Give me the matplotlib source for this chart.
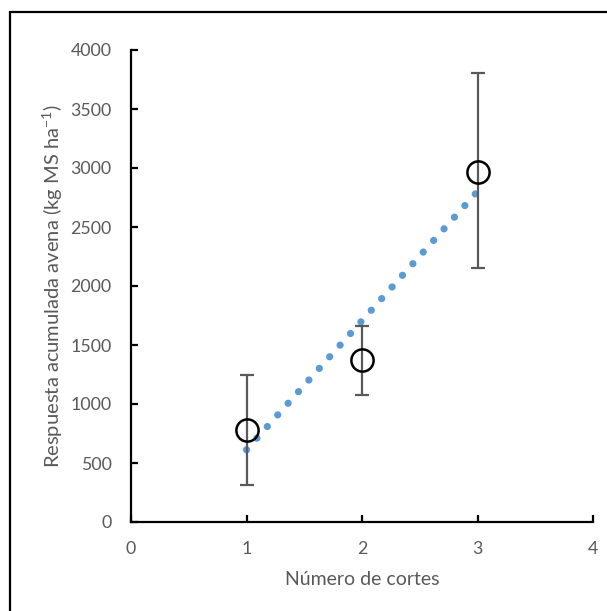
import numpy as np
import matplotlib.pyplot as plt
from matplotlib.patches import Rectangle

plt.rcParams['font.family'] = ['Lato', 'DejaVu Sans']

cortes = [1, 2, 3]
respuesta = [780, 1370, 2970]
err_low = [310, 1075, 2150]
err_high = [1250, 1665, 3805]
xticks = [0, 1, 2, 3, 4]
yticks = [0, 500, 1000, 1500, 2000, 2500, 3000, 3500, 4000]

gray = '#595959'

fig = plt.figure(figsize=(6.07, 6.11), dpi=100)
fig.patches.append(Rectangle((10/607, -0.1), 1.2, 1 - 12/611 + 0.1, transform=fig.transFigure,
                             fill=False, edgecolor='black', linewidth=1.6))
ax = fig.add_axes([131/607, 1 - 522/611, 462/607, 472/611])

# linear trend
m, b = np.polyfit(cortes, respuesta, 1)
xt = np.linspace(1, 3, 50)
ax.plot(xt, m*xt + b, color='#5B9BD5', linewidth=5.2, linestyle=(0, (0.01, 2.15)),
        dash_capstyle='round', zorder=2)

y = np.array(respuesta)
yerr = [y - np.array(err_low), np.array(err_high) - y]
ax.errorbar(cortes, respuesta, yerr=yerr, fmt='none', ecolor=gray, elinewidth=1.6,
            capsize=5, capthick=1.6, zorder=3)
ax.plot(cortes, respuesta, 'o', markersize=16, markerfacecolor='none',
        markeredgecolor='black', markeredgewidth=1.8, zorder=4)

ax.set_xlim(0, 4)
ax.set_ylim(0, 4000)
ax.set_xticks(xticks)
ax.set_yticks(yticks)
for s in ['top', 'right']:
    ax.spines[s].set_visible(False)
for s in ['left', 'bottom']:
    ax.spines[s].set_linewidth(1.6)
ax.tick_params(direction='in', length=5, width=1.6, labelcolor=gray, labelsize=12.8)
ax.tick_params(axis='y', pad=14)
ax.tick_params(axis='x', pad=14)
ax.set_xlabel('Número de cortes', color=gray, fontsize=14, labelpad=10)
ax.set_ylabel('Respuesta acumulada avena (kg MS ha$\\mathregular{^{-1}}$)', color=gray,
              fontsize=14.5, labelpad=4)

fig.savefig('out.png', dpi=100)
